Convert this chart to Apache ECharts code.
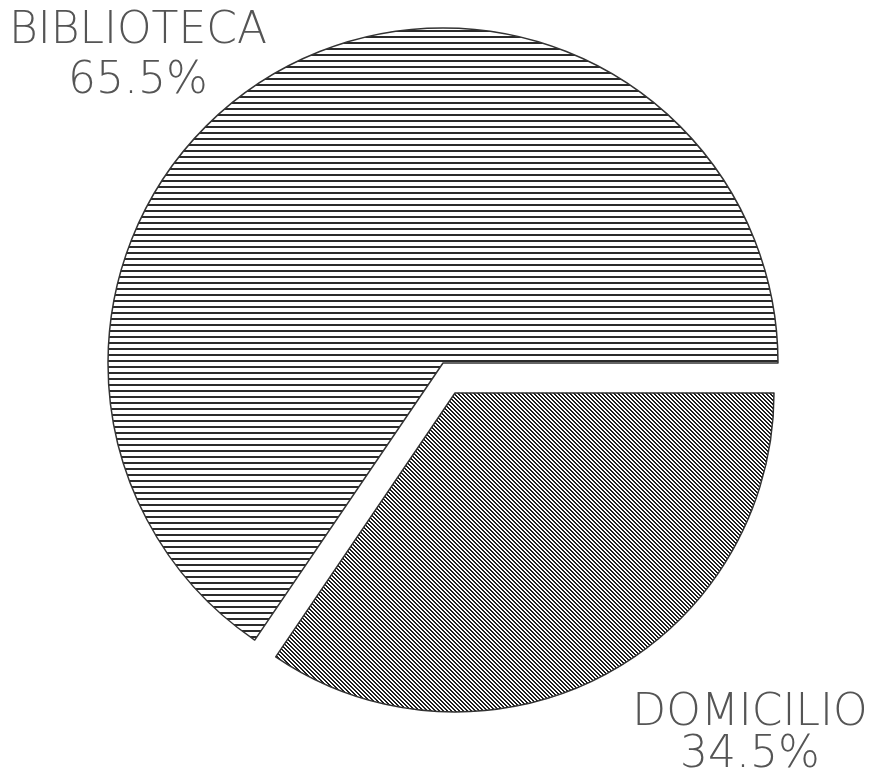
<!DOCTYPE html>
<html>
<head>
<meta charset="utf-8">
<title>Biblioteca / Domicilio</title>
<script src="https://cdn.jsdelivr.net/npm/echarts@6/dist/echarts.min.js"></script>
<style>
  html, body { margin: 0; padding: 0; background: #fff; }
  #chart { width: 873px; height: 777px; }
</style>
</head>
<body>
<div id="chart"></div>
<script>
// data
const categories = ['BIBLIOTECA', 'DOMICILIO']
const shares = [65.5, 34.5]

// hatch fills, like the old plotter output
const makeHatch = (size, ink, drawFn) => {
  const c = document.createElement('canvas')
  c.width = size
  c.height = size
  const ctx = c.getContext('2d')
  ctx.fillStyle = '#fff'
  ctx.fillRect(0, 0, size, size)
  ctx.fillStyle = ink
  drawFn(ctx, size)
  return c
}

// horizontal lines
const hLines = makeHatch(6, '#2b2b2b', (ctx, s) => {
  ctx.fillRect(0, 0, s, 2)
})

// diagonal "\" lines
const dLines = makeHatch(4, '#1e1e1e', (ctx, s) => {
  for (let y = 0; y < s; y++) {
    for (let x = 0; x < s; x++) {
      const k = ((x - y) % s + s) % s
      if (k === 0 || k === 1) ctx.fillRect(x, y, 1, 1)
    }
  }
})

const fills = [
  { image: hLines, repeat: 'repeat' },
  { image: dLines, repeat: 'repeat' }
]
const centers = [[443, 363], [455, 393]]
const radii = [335, 319]
const labelPos = [[138, 57], [750, 735]]
const lineHeights = [50, 42]

const hidden = {
  itemStyle: { color: 'transparent', borderWidth: 0 },
  label: { show: false },
  emphasis: { disabled: true }
}

// one series per slice so the exploded slice can keep its own size
const series = categories.map((name, i) => ({
  type: 'pie',
  silent: true,
  startAngle: 0,
  clockwise: false,
  center: centers[i],
  radius: radii[i],
  percentPrecision: 1,
  avoidLabelOverlap: false,
  labelLine: { show: false },
  label: {
    show: true,
    position: 'outside',
    formatter: '{b}\n{d}%',
    fontFamily: 'DejaVu Sans',
    fontWeight: 200,
    fontSize: 44,
    lineHeight: lineHeights[i],
    color: '#555',
    align: 'center'
  },
  labelLayout: () => ({
    x: labelPos[i][0],
    y: labelPos[i][1],
    align: 'center',
    verticalAlign: 'middle'
  }),
  data: categories.map((n, j) => {
    if (j !== i) return Object.assign({ name: n, value: shares[j] }, hidden)
    return {
      name: n,
      value: shares[j],
      itemStyle: { color: fills[j], borderColor: '#333', borderWidth: 1.5 }
    }
  })
}))

const chart = echarts.init(document.getElementById('chart'))
chart.setOption({
  animation: false,
  backgroundColor: '#fff',
  series: series
})
</script>
</body>
</html>
